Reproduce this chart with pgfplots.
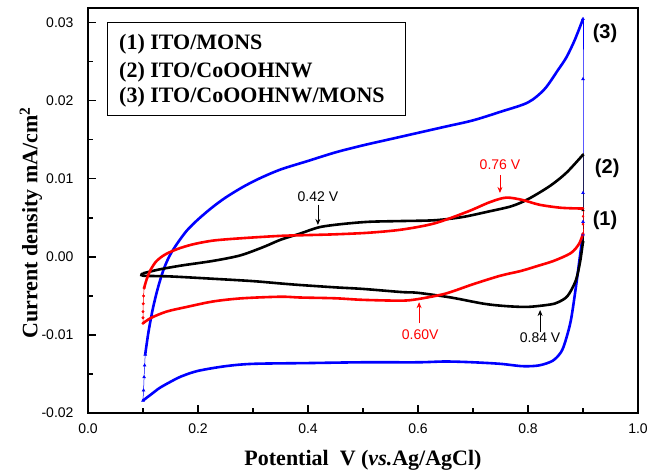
\documentclass[border=0pt]{standalone}
\usepackage{fontspec}
\setmainfont{Liberation Serif}
\setsansfont{Liberation Sans}
\usepackage{pgfplots}
\pgfplotsset{compat=1.18}
\usetikzlibrary{arrows.meta}
\begin{document}
\begin{tikzpicture}
\useasboundingbox (-88pt,-59pt) rectangle (570pt,413pt);
\begin{axis}[
  scale only axis, width=550pt, height=405pt,
  xmin=0, xmax=1, ymin=-0.02, ymax=0.0319,
  clip=false,
  axis line style={line width=1.8pt},
  tick align=inside, xtick pos=bottom, ytick pos=left,
  xtick={0,0.2,0.4,0.6,0.8,1.0},
  xticklabels={0.0,0.2,0.4,0.6,0.8,1.0},
  minor x tick num=1,
  ytick={-0.02,-0.01,0,0.01,0.02,0.03},
  yticklabels={-0.02,-0.01,0.00,0.01,0.02,0.03},
  minor y tick num=1,
  major tick length=8pt, minor tick length=5pt,
  every tick/.style={line width=1.2pt, black},
  ticklabel style={font=\sffamily\fontsize{14}{16}\selectfont},
  yticklabel style={xshift=-11pt},
  xticklabel style={yshift=-7pt},
  label style={font=\bfseries\fontsize{22}{24}\selectfont},
  xlabel={Potential\ \ V (\textit{vs.}Ag/AgCl)},
  ylabel={Current density mA/cm\textsuperscript{2}},
  xlabel style={at={(axis description cs:0.5,-0.118)},anchor=center},
  ylabel style={at={(axis description cs:-0.104,0.47)},anchor=center},
]
% ---- curve (3) blue ----
\addplot[blue, line width=0.5pt, mark=triangle*, mark size=1.6pt] coordinates {
(0.100,-0.0184)(0.101,-0.0171)(0.102,-0.0154)(0.103,-0.0139)(0.104,-0.0125)};
\addplot[blue, line width=2.6pt, smooth] coordinates {
(0.104,-0.0125)(0.110,-0.0096)(0.118,-0.0066)(0.127,-0.0040)(0.137,-0.0017)
(0.148,0.0001)(0.162,0.0017)(0.180,0.0034)(0.200,0.0048)(0.225,0.0063)
(0.250,0.0076)(0.280,0.0089)(0.310,0.0100)(0.350,0.0112)(0.400,0.0123)
(0.450,0.0134)(0.500,0.0143)(0.550,0.0151)(0.600,0.0159)(0.650,0.0167)
(0.700,0.0175)(0.750,0.0186)(0.800,0.0198)(0.830,0.0215)(0.855,0.0240)
(0.870,0.0256)(0.885,0.0278)(0.900,0.0305)};
\addplot[blue, line width=0.5pt, mark=triangle*, mark size=1.6pt] coordinates {
(0.900,0.0305)(0.900,0.0228)(0.900,0.0082)(0.900,0.0045)(0.900,0.0029)};
\addplot[blue, line width=2.6pt, smooth] coordinates {
(0.900,0.0029)(0.895,0.0004)(0.887,-0.0039)(0.878,-0.0081)(0.868,-0.0108)
(0.860,-0.0122)(0.845,-0.0133)(0.820,-0.0139)(0.790,-0.0140)(0.750,-0.0137)
(0.700,-0.0135)(0.650,-0.0134)(0.600,-0.0135)(0.500,-0.0135)(0.400,-0.0136)
(0.300,-0.0137)(0.250,-0.0140)(0.200,-0.0146)(0.170,-0.0153)(0.150,-0.0160)
(0.130,-0.0168)(0.115,-0.0176)(0.100,-0.0184)};
% ---- curve (2) black ----
\addplot[black, line width=2.6pt, smooth] coordinates {
(0.100,-0.0021)(0.130,-0.0016)(0.170,-0.0011)(0.228,-0.0005)(0.277,0.0002)
(0.320,0.0013)(0.350,0.0022)(0.386,0.0030)(0.420,0.0038)(0.460,0.0042)
(0.510,0.0045)(0.570,0.0046)(0.630,0.0047)(0.680,0.0051)(0.727,0.0058)
(0.770,0.0065)(0.800,0.0074)(0.840,0.0091)(0.870,0.0108)(0.900,0.0131)};
\addplot[black, line width=0.5pt, mark=triangle*, mark size=1.4pt] coordinates {
(0.900,0.0131)(0.900,0.0060)(0.900,0.0020)};
\addplot[black, line width=2.6pt, smooth] coordinates {
(0.900,0.0020)(0.895,-0.0005)(0.887,-0.0030)(0.872,-0.0050)(0.855,-0.0058)
(0.840,-0.0061)(0.800,-0.0064)(0.760,-0.0063)(0.720,-0.0060)(0.660,-0.0052)
(0.600,-0.0046)(0.570,-0.0045)(0.500,-0.0041)(0.450,-0.0039)(0.386,-0.0036)
(0.350,-0.0034)(0.300,-0.0031)(0.228,-0.0028)(0.150,-0.0025)(0.100,-0.0024)
(0.100,-0.0021)};
% ---- curve (1) red ----
\addplot[red, line width=0.5pt, mark=*, mark size=1.2pt] coordinates {
(0.100,-0.0085)(0.100,-0.0078)(0.100,-0.0070)(0.1005,-0.0060)(0.101,-0.0050)(0.102,-0.0040)};
\addplot[red, line width=2.6pt, smooth] coordinates {
(0.102,-0.0040)(0.107,-0.0028)(0.115,-0.0015)(0.125,-0.0005)(0.140,0.0003)
(0.162,0.0010)(0.190,0.0016)(0.228,0.0021)(0.280,0.0024)(0.350,0.0027)
(0.400,0.0028)(0.450,0.0029)(0.510,0.0031)(0.570,0.0035)(0.630,0.0043)
(0.690,0.0058)(0.730,0.0070)(0.760,0.0076)(0.790,0.0073)(0.820,0.0067)
(0.860,0.0063)(0.900,0.0062)};
\addplot[red, line width=0.5pt, mark=*, mark size=1.0pt] coordinates {
(0.900,0.0062)(0.900,0.0052)(0.900,0.0042)(0.900,0.0030)};
\addplot[red, line width=2.6pt, smooth] coordinates {
(0.900,0.0030)(0.893,0.0017)(0.878,0.0005)(0.847,-0.0005)(0.820,-0.0011)
(0.787,-0.0018)(0.750,-0.0024)(0.700,-0.0035)(0.650,-0.0047)(0.600,-0.0054)
(0.570,-0.0056)(0.500,-0.0055)(0.450,-0.0053)(0.386,-0.0052)(0.350,-0.0051)
(0.280,-0.0053)(0.228,-0.0057)(0.180,-0.0064)(0.143,-0.0070)(0.115,-0.0078)
(0.100,-0.0085)};
% ---- annotations ----
\node[font=\sffamily\fontsize{14}{16}\selectfont, black] at (axis cs:0.418,0.0077) {0.42 V};
\draw[black, line width=0.8pt, -{Stealth[length=6pt,width=5pt]}] (axis cs:0.418,0.0067) -- (axis cs:0.418,0.0041);
\node[font=\sffamily\fontsize{14}{16}\selectfont, red] at (axis cs:0.749,0.0118) {0.76 V};
\draw[red, line width=0.8pt, -{Stealth[length=6pt,width=5pt]}] (axis cs:0.749,0.0105) -- (axis cs:0.749,0.0082);
\node[font=\sffamily\fontsize{14}{16}\selectfont, red] at (axis cs:0.604,-0.0100) {0.60V};
\draw[red, line width=0.8pt, -{Stealth[length=6pt,width=5pt]}] (axis cs:0.602,-0.0085) -- (axis cs:0.602,-0.0058);
\node[font=\sffamily\fontsize{14}{16}\selectfont, black] at (axis cs:0.822,-0.0104) {0.84 V};
\draw[black, line width=0.8pt, -{Stealth[length=6pt,width=5pt]}] (axis cs:0.822,-0.0096) -- (axis cs:0.822,-0.0068);
\node[font=\sffamily\bfseries\fontsize{20}{22}\selectfont] at (axis cs:0.94,0.0287) {(3)};
\node[font=\sffamily\bfseries\fontsize{20}{22}\selectfont] at (axis cs:0.944,0.0114) {(2)};
\node[font=\sffamily\bfseries\fontsize{20}{22}\selectfont] at (axis cs:0.94,0.0047) {(1)};
% ---- legend box ----
\draw[line width=0.8pt, fill=white] (axis cs:0.0345,0.0300) rectangle (axis cs:0.5764,0.0182);
\node[anchor=west, font=\bfseries\fontsize{22}{24}\selectfont, inner sep=0pt] at (axis cs:0.0564,0.0272) {(1) ITO/MONS};
\node[anchor=west, font=\bfseries\fontsize{22}{24}\selectfont, inner sep=0pt] at (axis cs:0.0564,0.0237) {(2) ITO/CoOOHNW};
\node[anchor=west, font=\bfseries\fontsize{22}{24}\selectfont, inner sep=0pt] at (axis cs:0.0564,0.0205) {(3) ITO/CoOOHNW/MONS};
\end{axis}
\end{tikzpicture}
\end{document}
